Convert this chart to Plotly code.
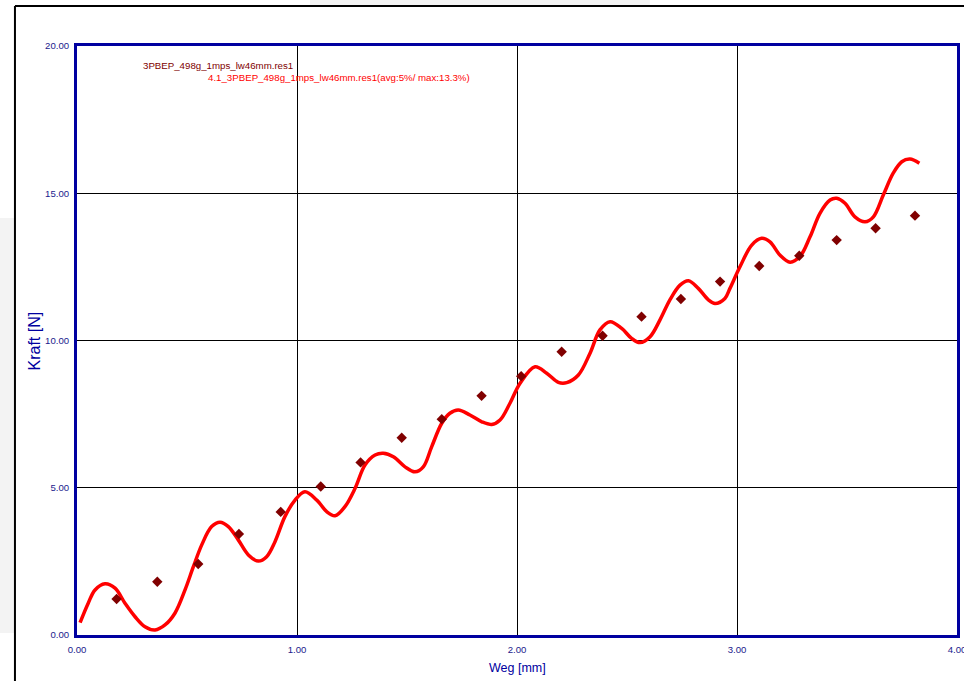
import plotly.graph_objects as go

# ---- data ----
curve_x = [0.014, 0.051, 0.082, 0.127, 0.173, 0.218, 0.264, 0.309, 0.355, 0.400,
           0.445, 0.491, 0.529, 0.567, 0.612, 0.650, 0.688, 0.733, 0.779, 0.824,
           0.862, 0.900, 0.945, 0.991, 1.036, 1.090, 1.135, 1.173, 1.218, 1.264,
           1.309, 1.355, 1.392, 1.438, 1.491, 1.536, 1.574, 1.612, 1.658, 1.695,
           1.733, 1.786, 1.840, 1.885, 1.923, 1.968, 2.014, 2.082, 2.135, 2.188,
           2.226, 2.279, 2.332, 2.377, 2.423, 2.476, 2.521, 2.559, 2.605, 2.650,
           2.695, 2.741, 2.779, 2.824, 2.870, 2.900, 2.945, 2.968, 3.014, 3.067,
           3.112, 3.150, 3.195, 3.241, 3.286, 3.332, 3.377, 3.423, 3.453, 3.491,
           3.536, 3.582, 3.620, 3.665, 3.710, 3.749, 3.786, 3.829]
curve_y = [0.42, 1.08, 1.53, 1.74, 1.59, 1.08, 0.62, 0.28, 0.17, 0.34,
           0.74, 1.53, 2.32, 3.06, 3.68, 3.83, 3.68, 3.23, 2.72, 2.51,
           2.66, 3.17, 4.02, 4.58, 4.86, 4.58, 4.19, 4.05, 4.36, 4.98,
           5.77, 6.11, 6.17, 6.05, 5.71, 5.54, 5.71, 6.39, 7.19, 7.53,
           7.64, 7.47, 7.24, 7.15, 7.30, 7.87, 8.55, 9.11, 8.89, 8.58,
           8.57, 8.83, 9.57, 10.36, 10.64, 10.41, 10.07, 9.93, 10.13, 10.70,
           11.38, 11.88, 12.03, 11.77, 11.38, 11.26, 11.43, 11.77, 12.51, 13.24,
           13.47, 13.35, 12.90, 12.66, 12.85, 13.52, 14.32, 14.77, 14.83, 14.66,
           14.20, 14.03, 14.20, 14.94, 15.68, 16.07, 16.16, 16.02]

meas_x = [0.180, 0.365, 0.551, 0.736, 0.926, 1.108, 1.289, 1.476, 1.658, 1.839,
          2.019, 2.203, 2.389, 2.566, 2.745, 2.923, 3.101, 3.283, 3.453, 3.630, 3.809]
meas_y = [1.22, 1.81, 2.41, 3.43, 4.18, 5.04, 5.86, 6.70, 7.33, 8.12,
          8.79, 9.62, 10.16, 10.81, 11.41, 12.00, 12.53, 12.88, 13.41, 13.81, 14.24]

x_ticks = [0, 1, 2, 3, 4]
x_ticktext = ["0.00", "1.00", "2.00", "3.00", "4.00"]
y_ticks = [0, 5, 10, 15, 20]
y_ticktext = ["0.00", "5.00", "10.00", "15.00", "20.00"]

label_meas = "3PBEP_498g_1mps_lw46mm.res1"
label_sim = "4.1_3PBEP_498g_1mps_lw46mm.res1(avg:5%/ max:13.3%)"
x_title = "Weg [mm]"
y_title = "Kraft [N]"

NAVY = "#0000a0"
TXT = "#1a1a8c"
FONT = "Liberation Sans, Arial, sans-serif"

fig = go.Figure()
fig.add_trace(go.Scatter(x=curve_x, y=curve_y, mode="lines",
                         line=dict(color="#ff0000", width=3.5, shape="spline", smoothing=1.0),
                         showlegend=False, hoverinfo="skip"))
fig.add_trace(go.Scatter(x=meas_x, y=meas_y, mode="markers",
                         marker=dict(symbol="diamond", color="#800000", size=8),
                         showlegend=False))

fig.update_layout(
    width=964, height=681, autosize=False,
    margin=dict(l=77, r=7, t=46, b=46, autoexpand=False),
    paper_bgcolor="white", plot_bgcolor="white",
    font=dict(family=FONT),
    xaxis=dict(range=[0, 4], tickvals=x_ticks, ticktext=x_ticktext, automargin=False,
               ticklabeloverflow="allow",
               showgrid=True, gridcolor="black", gridwidth=1,
               showline=True, linecolor=NAVY, linewidth=3, mirror=True,
               zeroline=False, ticks="outside", ticklen=3, tickcolor="rgba(0,0,0,0)",
               tickfont=dict(size=9.6, color=TXT, family=FONT)),
    yaxis=dict(range=[0, 20], tickvals=y_ticks, ticktext=y_ticktext, automargin=False,
               ticklabeloverflow="allow",
               showgrid=True, gridcolor="black", gridwidth=1,
               showline=True, linecolor=NAVY, linewidth=3, mirror=True,
               zeroline=False, ticks="outside", ticklen=3, tickcolor="rgba(0,0,0,0)",
               tickfont=dict(size=9.6, color=TXT, family=FONT)),
)

# background decorations (window frame)
fig.add_shape(type="rect", xref="paper", yref="paper", x0=-0.0875, x1=-0.0716,
              y0=0.0034, y1=0.708, line_width=0, fillcolor="#f3f3f3", layer="below")
fig.add_shape(type="rect", xref="paper", yref="paper", x0=0.2648, x1=0.651,
              y0=1.0696, y1=1.08, line_width=0, fillcolor="#f3f3f3", layer="below")
fig.add_shape(type="line", xref="paper", yref="paper", x0=-0.0705, x1=-0.0705,
              y0=-0.08, y1=1.0679, line=dict(color="black", width=2))
fig.add_shape(type="line", xref="paper", yref="paper", x0=-0.0705, x1=1.01,
              y0=1.0679, y1=1.0679, line=dict(color="black", width=2))

fig.add_annotation(xref="paper", yref="paper", x=0.0727, y=0.9677, text=label_meas,
                   showarrow=False, xanchor="left", yanchor="middle",
                   font=dict(size=9.7, color="#800000", family=FONT))
fig.add_annotation(xref="paper", yref="paper", x=0.1466, y=0.9457, text=label_sim,
                   showarrow=False, xanchor="left", yanchor="middle",
                   font=dict(size=9.7, color="#ff0000", family=FONT))
fig.add_annotation(xref="paper", yref="paper", x=0.5, y=(635 - 668) / 589, text=x_title,
                   showarrow=False, xanchor="center", yanchor="middle",
                   font=dict(size=12.5, color=NAVY, family=FONT))
fig.add_annotation(xref="paper", yref="paper", x=(33.5 - 77) / 880, y=(635 - 341) / 589,
                   text=y_title, textangle=-90,
                   showarrow=False, xanchor="center", yanchor="middle",
                   font=dict(size=16, color=NAVY, family=FONT))

fig.write_html("out.html", config={"responsive": False, "displayModeBar": False},
               default_width="964px", default_height="681px",
               post_script="document.body.style.margin='0';document.body.style.overflow='hidden';")
